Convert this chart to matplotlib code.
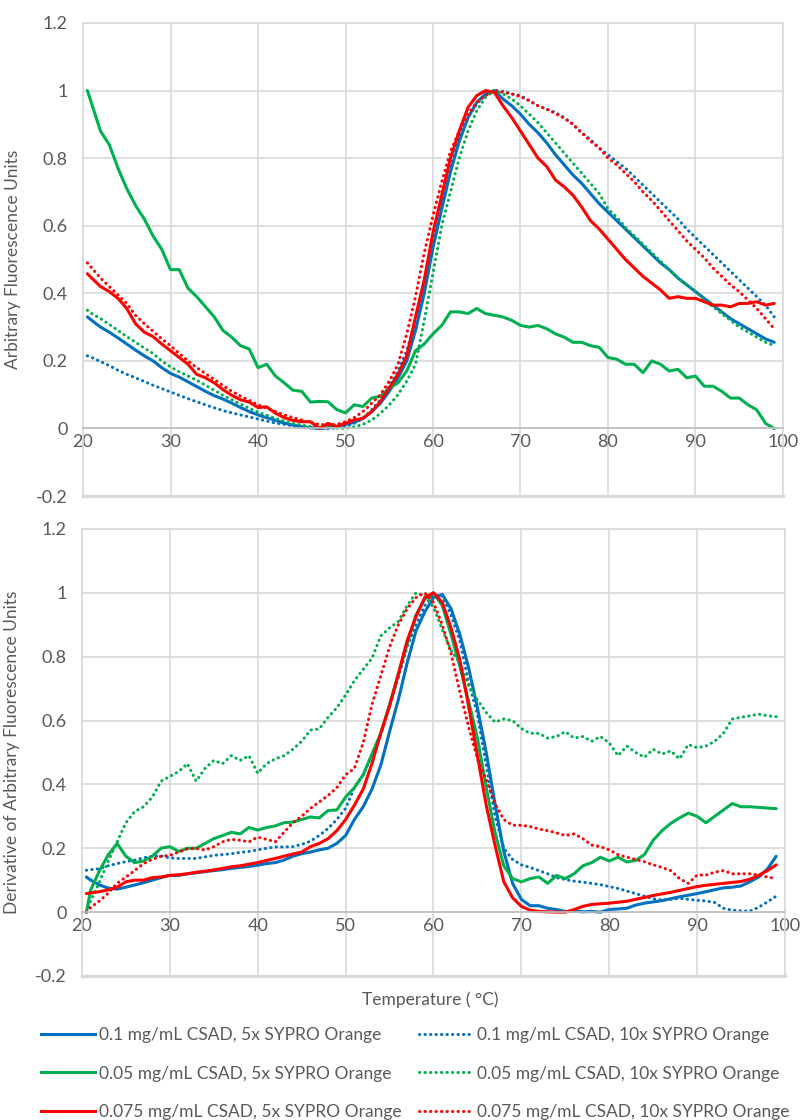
import matplotlib
matplotlib.use("Agg")
import matplotlib.pyplot as plt
from matplotlib.lines import Line2D

# Temperature points (deg C)
temp = [20.5] + list(range(21, 100))

# Raw melt curves, normalised fluorescence
raw_01_5x = [0.33, 0.32, 0.30, 0.285, 0.268, 0.25, 0.232, 0.215, 0.2, 0.18,
             0.163, 0.152, 0.138, 0.124, 0.11, 0.097, 0.087, 0.075, 0.062, 0.05,
             0.04, 0.032, 0.024, 0.016, 0.01, 0.005, 0.002, 0.0, 0.002, 0.006,
             0.012, 0.018, 0.03, 0.05, 0.075, 0.11, 0.15, 0.2, 0.29, 0.4,
             0.535, 0.65, 0.76, 0.85, 0.92, 0.965, 0.99, 1.0, 0.975, 0.955,
             0.93, 0.9, 0.875, 0.845, 0.81, 0.78, 0.75, 0.725, 0.695, 0.665,
             0.64, 0.615, 0.59, 0.565, 0.54, 0.515, 0.49, 0.47, 0.445, 0.425,
             0.405, 0.385, 0.365, 0.345, 0.325, 0.31, 0.295, 0.28, 0.265, 0.255]
raw_01_10x = [0.215, 0.21, 0.198, 0.186, 0.172, 0.16, 0.15, 0.139, 0.128, 0.118,
              0.108, 0.098, 0.088, 0.079, 0.07, 0.061, 0.053, 0.046, 0.04, 0.034,
              0.028, 0.022, 0.016, 0.012, 0.008, 0.005, 0.003, 0.001, 0.0, 0.002,
              0.006, 0.015, 0.03, 0.055, 0.085, 0.125, 0.17, 0.23, 0.32, 0.43,
              0.56, 0.67, 0.77, 0.86, 0.92, 0.96, 0.99, 1.0, 0.998, 0.99,
              0.985, 0.97, 0.955, 0.945, 0.935, 0.92, 0.90, 0.875, 0.855, 0.83,
              0.81, 0.79, 0.77, 0.745, 0.72, 0.695, 0.67, 0.645, 0.62, 0.59,
              0.565, 0.54, 0.515, 0.49, 0.465, 0.44, 0.415, 0.39, 0.365, 0.33]
raw_005_5x = [1.0, 0.96, 0.88, 0.84, 0.77, 0.71, 0.66, 0.62, 0.57, 0.53,
              0.47, 0.47, 0.415, 0.39, 0.36, 0.33, 0.29, 0.27, 0.245, 0.235,
              0.18, 0.19, 0.155, 0.135, 0.113, 0.11, 0.078, 0.08, 0.079, 0.056,
              0.046, 0.07, 0.065, 0.09, 0.095, 0.12, 0.135, 0.17, 0.23, 0.25,
              0.28, 0.305, 0.345, 0.345, 0.34, 0.355, 0.34, 0.335, 0.33, 0.32,
              0.305, 0.30, 0.305, 0.295, 0.28, 0.27, 0.255, 0.255, 0.245, 0.24,
              0.21, 0.205, 0.19, 0.19, 0.165, 0.20, 0.19, 0.17, 0.175, 0.15,
              0.155, 0.125, 0.125, 0.11, 0.09, 0.09, 0.07, 0.055, 0.015, 0.0]
raw_005_10x = [0.35, 0.34, 0.325, 0.308, 0.29, 0.272, 0.255, 0.238, 0.222, 0.2,
               0.182, 0.168, 0.155, 0.143, 0.128, 0.113, 0.098, 0.085, 0.072, 0.06,
               0.048, 0.039, 0.03, 0.022, 0.015, 0.01, 0.006, 0.004, 0.002, 0.001,
               0.0, 0.005, 0.012, 0.025, 0.045, 0.07, 0.1, 0.14, 0.19, 0.32,
               0.46, 0.6, 0.7, 0.8, 0.88, 0.94, 0.98, 1.0, 0.99, 0.975,
               0.955, 0.93, 0.905, 0.875, 0.845, 0.815, 0.785, 0.755, 0.725, 0.695,
               0.65, 0.625, 0.595, 0.57, 0.545, 0.52, 0.495, 0.47, 0.445, 0.425,
               0.405, 0.38, 0.36, 0.34, 0.32, 0.3, 0.285, 0.27, 0.255, 0.245]
raw_0075_5x = [0.458, 0.445, 0.42, 0.405, 0.385, 0.355, 0.31, 0.285, 0.272, 0.25,
               0.23, 0.21, 0.19, 0.16, 0.15, 0.135, 0.115, 0.098, 0.085, 0.078,
               0.062, 0.064, 0.045, 0.032, 0.024, 0.02, 0.02, 0.0, 0.015, 0.006,
               0.015, 0.025, 0.03, 0.05, 0.08, 0.12, 0.16, 0.215, 0.33, 0.44,
               0.58, 0.69, 0.80, 0.88, 0.95, 0.985, 1.0, 0.995, 0.955, 0.92,
               0.88, 0.84, 0.80, 0.775, 0.735, 0.715, 0.69, 0.655, 0.615, 0.59,
               0.56, 0.53, 0.50, 0.475, 0.45, 0.43, 0.41, 0.385, 0.39, 0.385,
               0.385, 0.375, 0.365, 0.365, 0.36, 0.37, 0.37, 0.375, 0.365, 0.37]
raw_0075_10x = [0.49, 0.475, 0.445, 0.42, 0.395, 0.37, 0.335, 0.31, 0.288, 0.265,
                0.245, 0.222, 0.2, 0.18, 0.162, 0.145, 0.127, 0.11, 0.096, 0.083,
                0.07, 0.06, 0.05, 0.04, 0.032, 0.025, 0.018, 0.012, 0.01, 0.012,
                0.02, 0.032, 0.05, 0.075, 0.1, 0.14, 0.19, 0.28, 0.39, 0.52,
                0.63, 0.73, 0.82, 0.88, 0.93, 0.965, 0.985, 1.0, 0.995, 0.99,
                0.982, 0.97, 0.955, 0.945, 0.932, 0.918, 0.90, 0.875, 0.85, 0.83,
                0.80, 0.78, 0.755, 0.73, 0.70, 0.675, 0.645, 0.615, 0.585, 0.555,
                0.53, 0.505, 0.475, 0.45, 0.425, 0.405, 0.38, 0.355, 0.325, 0.295]

# First derivative of the melt curves, normalised
der_01_5x = [0.11, 0.1, 0.085, 0.075, 0.072, 0.078, 0.085, 0.092, 0.1, 0.108,
             0.115, 0.115, 0.12, 0.123, 0.127, 0.13, 0.133, 0.137, 0.14, 0.143,
             0.147, 0.152, 0.155, 0.163, 0.175, 0.183, 0.188, 0.195, 0.2, 0.215,
             0.24, 0.29, 0.33, 0.385, 0.46, 0.565, 0.665, 0.78, 0.88, 0.94,
             0.985, 0.995, 0.95, 0.87, 0.765, 0.64, 0.5, 0.34, 0.19, 0.09,
             0.04, 0.02, 0.02, 0.012, 0.008, 0.002, 0.003, 0.001, 0.002, 0.0,
             0.008, 0.01, 0.012, 0.022, 0.028, 0.032, 0.036, 0.042, 0.048, 0.053,
             0.058, 0.064, 0.07, 0.076, 0.078, 0.082, 0.095, 0.11, 0.135, 0.175]
der_01_10x = [0.131, 0.133, 0.136, 0.145, 0.152, 0.158, 0.163, 0.17, 0.175, 0.176,
              0.17, 0.168, 0.168, 0.168, 0.173, 0.178, 0.18, 0.183, 0.187, 0.19,
              0.195, 0.2, 0.204, 0.204, 0.205, 0.212, 0.222, 0.24, 0.262, 0.29,
              0.325, 0.39, 0.43, 0.49, 0.555, 0.645, 0.735, 0.83, 0.9, 0.96,
              0.995, 0.99, 0.93, 0.85, 0.72, 0.62, 0.46, 0.3, 0.2, 0.165,
              0.148, 0.14, 0.13, 0.12, 0.108, 0.102, 0.097, 0.094, 0.09, 0.086,
              0.08, 0.074, 0.066, 0.058, 0.05, 0.042, 0.038, 0.04, 0.043, 0.04,
              0.037, 0.035, 0.03, 0.012, 0.006, 0.004, 0.003, 0.015, 0.032, 0.05]
der_005_5x = [0.0, 0.07, 0.13, 0.18, 0.215, 0.175, 0.155, 0.16, 0.175, 0.2,
              0.205, 0.19, 0.2, 0.2, 0.215, 0.23, 0.24, 0.25, 0.245, 0.265,
              0.257, 0.265, 0.27, 0.28, 0.282, 0.29, 0.298, 0.295, 0.318, 0.32,
              0.36, 0.39, 0.43, 0.495, 0.56, 0.65, 0.745, 0.84, 0.93, 0.98,
              1.0, 0.96, 0.87, 0.77, 0.66, 0.545, 0.39, 0.25, 0.145, 0.105,
              0.095, 0.105, 0.11, 0.09, 0.115, 0.105, 0.12, 0.145, 0.155, 0.172,
              0.16, 0.172, 0.157, 0.162, 0.18, 0.225, 0.255, 0.278, 0.295, 0.31,
              0.3, 0.28, 0.3, 0.32, 0.34, 0.33, 0.33, 0.328, 0.326, 0.324]
der_005_10x = [0.0, 0.035, 0.095, 0.16, 0.22, 0.28, 0.315, 0.33, 0.36, 0.41,
               0.425, 0.44, 0.465, 0.41, 0.45, 0.475, 0.465, 0.49, 0.475, 0.49,
               0.435, 0.465, 0.48, 0.49, 0.51, 0.535, 0.57, 0.574, 0.61, 0.64,
               0.68, 0.725, 0.76, 0.795, 0.865, 0.89, 0.91, 0.96, 1.0, 0.99,
               0.955, 0.885, 0.82, 0.78, 0.71, 0.665, 0.625, 0.595, 0.605, 0.6,
               0.575, 0.56, 0.56, 0.545, 0.55, 0.565, 0.545, 0.55, 0.535, 0.55,
               0.53, 0.49, 0.52, 0.5, 0.485, 0.51, 0.495, 0.505, 0.48, 0.525,
               0.515, 0.52, 0.535, 0.56, 0.605, 0.61, 0.615, 0.62, 0.615, 0.612]
der_0075_5x = [0.058, 0.06, 0.064, 0.07, 0.078, 0.095, 0.1, 0.1, 0.108, 0.11,
               0.115, 0.117, 0.12, 0.125, 0.128, 0.132, 0.137, 0.142, 0.145, 0.15,
               0.155, 0.162, 0.168, 0.175, 0.182, 0.188, 0.205, 0.215, 0.23, 0.255,
               0.29, 0.335, 0.385, 0.465, 0.56, 0.645, 0.745, 0.85, 0.925, 0.985,
               1.0, 0.97, 0.89, 0.79, 0.645, 0.49, 0.335, 0.21, 0.095, 0.045,
               0.018, 0.006, 0.002, 0.001, 0.0, 0.0, 0.008, 0.018, 0.024, 0.026,
               0.028, 0.031, 0.034, 0.04, 0.046, 0.052, 0.057, 0.062, 0.068, 0.074,
               0.08, 0.084, 0.087, 0.09, 0.093, 0.096, 0.103, 0.115, 0.13, 0.148]
der_0075_10x = [0.0, 0.015, 0.035, 0.06, 0.09, 0.11, 0.13, 0.152, 0.165, 0.175,
                0.178, 0.188, 0.198, 0.2, 0.194, 0.205, 0.22, 0.228, 0.225, 0.22,
                0.235, 0.228, 0.22, 0.25, 0.28, 0.3, 0.325, 0.345, 0.365, 0.39,
                0.43, 0.45, 0.53, 0.65, 0.74, 0.83, 0.9, 0.95, 0.985, 1.0,
                0.97, 0.9, 0.81, 0.69, 0.58, 0.48, 0.415, 0.34, 0.29, 0.272,
                0.272, 0.268, 0.26, 0.255, 0.248, 0.24, 0.245, 0.23, 0.21, 0.205,
                0.195, 0.18, 0.172, 0.165, 0.158, 0.148, 0.14, 0.13, 0.105, 0.09,
                0.116, 0.116, 0.125, 0.13, 0.12, 0.12, 0.12, 0.116, 0.11, 0.105]

labels = ["0.1 mg/mL CSAD, 5x SYPRO Orange",
          "0.1 mg/mL CSAD, 10x SYPRO Orange",
          "0.05 mg/mL CSAD, 5x SYPRO Orange",
          "0.05 mg/mL CSAD, 10x SYPRO Orange",
          "0.075 mg/mL CSAD, 5x SYPRO Orange",
          "0.075 mg/mL CSAD, 10x SYPRO Orange"]
colors = ["#0070C0", "#0070C0", "#00B050", "#00B050", "#FF0000", "#FF0000"]
dotted = (0, (0.1, 1.7))
styles = ["-", dotted, "-", dotted, "-", dotted]

raw = [raw_01_5x, raw_01_10x, raw_005_5x, raw_005_10x, raw_0075_5x, raw_0075_10x]
der = [der_01_5x, der_01_10x, der_005_5x, der_005_10x, der_0075_5x, der_0075_10x]

plt.rcParams["font.family"] = ["Lato", "DejaVu Sans"]
txt = "#595959"
grid = "#D9D9D9"
lw = 2.2

fig = plt.figure(figsize=(8.02, 11.2), dpi=100)
ax1 = fig.add_axes([0.1035, 0.5571, 0.8728, 0.4224])
ax2 = fig.add_axes([0.1022, 0.1286, 0.8766, 0.3991])


def style_axis(ax, ylabel):
    ax.set_xlim(20, 100)
    ax.set_ylim(-0.2, 1.2)
    ax.set_xticks(range(20, 101, 10))
    ax.set_yticks([-0.2, 0, 0.2, 0.4, 0.6, 0.8, 1, 1.2])
    ax.set_yticklabels(["-0.2", "0", "0.2", "0.4", "0.6", "0.8", "1", "1.2"])
    ax.grid(True, color=grid, linewidth=1.2)
    ax.set_axisbelow(True)
    for side in ["top", "left", "right"]:
        ax.spines[side].set_color(grid)
        ax.spines[side].set_linewidth(1.2)
    ax.spines["bottom"].set_position(("data", 0))
    ax.spines["bottom"].set_color("#BFBFBF")
    ax.spines["bottom"].set_linewidth(1.2)
    ax.axhline(-0.2, color=grid, linewidth=2.4, clip_on=False, zorder=0)
    ax.tick_params(length=0, labelsize=13, colors=txt)
    ax.tick_params(axis="y", pad=11)
    ax.tick_params(axis="x", pad=4)
    ax.set_ylabel(ylabel, fontsize=12.5, color=txt)
    ax.yaxis.set_label_coords(-0.088, 0.5)


def draw(ax, series):
    for y, c, ls in zip(series, colors, styles):
        ax.plot(temp, y, color=c, linestyle=ls, linewidth=lw,
                dash_capstyle="round", solid_capstyle="round")


draw(ax1, raw)
draw(ax2, der)

style_axis(ax1, "Arbitrary Fluorescence Units")
style_axis(ax2, "Derivative of Arbitrary Fluorescence Units")

fig.text(0.536, 1 - 1000 / 1120, "Temperature ( \u00b0C)", ha="center", va="center",
         fontsize=12.5, color=txt)

handles = [Line2D([], [], color=c, linestyle=ls, linewidth=lw, dash_capstyle="round")
           for c, ls in zip(colors, styles)]
order = [0, 2, 4, 1, 3, 5]
leg = fig.legend([handles[i] for i in order], [labels[i] for i in order],
                 ncol=2, loc="upper left", bbox_to_anchor=(41 / 802, 1 - 1027 / 1120),
                 frameon=False, fontsize=12.5, handlelength=3.1, handletextpad=0.25,
                 columnspacing=1.0, labelspacing=1.3, borderpad=0, borderaxespad=0)
for t in leg.get_texts():
    t.set_color(txt)

fig.savefig("out.png", dpi=100)
